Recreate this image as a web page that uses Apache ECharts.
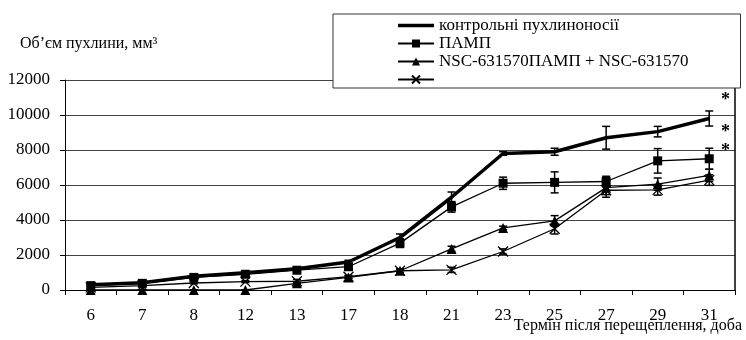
<!DOCTYPE html>
<html>
<head>
<meta charset="utf-8">
<script src="https://cdn.jsdelivr.net/npm/echarts@6/dist/echarts.min.js"></script>
<style>html,body{margin:0;padding:0;background:#fff;}#c{width:746px;height:340px;}</style>
</head>
<body>
<div id="c"></div>
<script>
var categories = ['6','7','8','12','13','17','18','21','23','25','27','29','31'];
var yTicks = [0, 2000, 4000, 6000, 8000, 10000, 12000];
var seriesNames = ['контрольні пухлиноносії', 'ПАМП', 'NSC-631570ПАМП + NSC-631570', ' '];
var control    = [300, 420, 780, 980, 1220, 1600, 3000, 5300, 7800, 7900, 8700, 9050, 9800];
var controlErr = [60, 60, 80, 80, 80, 100, 200, 300, 100, 200, 650, 300, 430];
var pamp       = [250, 380, 720, 900, 1130, 1330, 2680, 4750, 6100, 6150, 6200, 7380, 7500];
var pampErr    = [60, 60, 80, 80, 80, 100, 250, 300, 350, 600, 300, 700, 600];
var nsc        = [0, 0, 0, 0, 380, 720, 1100, 2350, 3550, 3950, 5850, 6050, 6550];
var nscErr     = [0, 0, 0, 0, 60, 80, 100, 150, 100, 300, 400, 350, 350];
var cross      = [150, 250, 400, 480, 500, 760, 1100, 1150, 2200, 3500, 5700, 5720, 6280];
var crossErr   = [50, 50, 50, 60, 100, 80, 100, 150, 150, 300, 400, 300, 300];
var asterisks  = ['*', '*', '*'];

var FONT = 'Liberation Serif';

function errData(vals, errs) {
  return vals.map(function (v, i) { return [i, v - errs[i], v + errs[i]]; });
}
function errSeries(vals, errs, w) {
  return {
    type: 'custom',
    silent: true,
    z: 3,
    data: errData(vals, errs),
    renderItem: function (params, api) {
      var lo = api.coord([api.value(0), api.value(1)]);
      var hi = api.coord([api.value(0), api.value(2)]);
      var h = 4;
      var st = { stroke: '#000', lineWidth: w };
      return {
        type: 'group',
        children: [
          { type: 'line', shape: { x1: lo[0], y1: lo[1], x2: hi[0], y2: hi[1] }, style: st },
          { type: 'line', shape: { x1: lo[0] - h, y1: lo[1], x2: lo[0] + h, y2: lo[1] }, style: st },
          { type: 'line', shape: { x1: hi[0] - h, y1: hi[1], x2: hi[0] + h, y2: hi[1] }, style: st }
        ]
      };
    }
  };
}

var chart = echarts.init(document.getElementById('c'), null, { renderer: 'canvas' });
chart.setOption({
  animation: false,
  backgroundColor: '#fff',
  textStyle: { fontFamily: FONT, color: '#000' },
  grid: { left: 65, right: 11, top: 80, bottom: 50 },
  legend: {
    orient: 'vertical',
    left: 333,
    top: 14,
    padding: [3, 52, 0, 64],
    backgroundColor: '#fff',
    borderColor: '#333',
    borderWidth: 1,
    itemWidth: 36,
    itemHeight: 10,
    itemGap: 1,
    align: 'left',
    data: [
      { name: seriesNames[0], icon: 'path://M0,0 L36,0 L36,0 Z M0,3.3 L36,3.3 L36,6.7 L0,6.7 Z M0,10 L36,10 L36,10 Z' },
      seriesNames[1], seriesNames[2], seriesNames[3]
    ],
    textStyle: { fontFamily: FONT, fontSize: 17, color: '#000' }
  },
  xAxis: {
    type: 'category',
    data: categories,
    boundaryGap: true,
    axisLine: { lineStyle: { color: '#000', width: 1 } },
    axisTick: { show: true, length: 5, lineStyle: { color: '#000' } },
    axisLabel: { fontFamily: FONT, fontSize: 17, color: '#000', margin: 17 },
    splitLine: { show: false }
  },
  yAxis: [{
    type: 'value',
    min: 0,
    max: 12000,
    interval: 2000,
    axisLine: { show: true, lineStyle: { color: '#000', width: 1 } },
    axisTick: { show: true, length: 5, lineStyle: { color: '#000' } },
    axisLabel: {
      fontFamily: FONT, fontSize: 17, color: '#000', margin: 15,
      formatter: function (v) { return yTicks.indexOf(v) >= 0 ? String(v) : ''; }
    },
    splitLine: { show: true, lineStyle: { color: '#444', width: 1 } }
  }, {
    type: 'value',
    min: 0,
    max: 12000,
    interval: 2000,
    position: 'right',
    axisLine: { show: true, lineStyle: { color: '#000', width: 1.5 } },
    axisTick: { show: false },
    axisLabel: { show: false },
    splitLine: { show: false }
  }],
  series: [
    {
      name: seriesNames[0], type: 'line', data: control, symbol: 'none', z: 5,
      lineStyle: { color: '#000', width: 3.5 }, itemStyle: { color: '#000' }
    },
    {
      name: seriesNames[1], type: 'line', data: pamp, symbol: 'rect', symbolSize: 9, z: 4,
      lineStyle: { color: '#000', width: 1.3 }, itemStyle: { color: '#000' }
    },
    {
      name: seriesNames[2], type: 'line', data: nsc, symbol: 'triangle', symbolSize: 10, z: 4,
      lineStyle: { color: '#000', width: 1.3 }, itemStyle: { color: '#000' }
    },
    {
      name: seriesNames[3], type: 'line', data: cross,
      symbol: 'path://M0,0 L10,10 M10,0 L0,10', symbolSize: 10, z: 4,
      lineStyle: { color: '#000', width: 1.3 },
      itemStyle: { color: 'transparent', borderColor: '#000', borderWidth: 1.3 }
    },
    errSeries(control, controlErr, 1.5),
    errSeries(pamp, pampErr, 1.5),
    errSeries(nsc, nscErr, 1.5),
    errSeries(cross, crossErr, 1.5)
  ],
  graphic: [
    { type: 'text', z: 100, left: 20, top: 36, style: { text: 'Об’єм пухлини, мм³', font: '16px "Liberation Serif"', fill: '#000' } },
    { type: 'text', z: 100, right: 4, top: 318, style: { text: 'Термін після перещеплення, доба', font: '16px "Liberation Serif"', fill: '#000' } },
    { type: 'text', z: 100, left: 721, top: 91, style: { text: asterisks[0], font: 'bold 18px "Liberation Serif"', fill: '#000' } },
    { type: 'text', z: 100, left: 721, top: 123, style: { text: asterisks[1], font: 'bold 18px "Liberation Serif"', fill: '#000' } },
    { type: 'text', z: 100, left: 721, top: 142, style: { text: asterisks[2], font: 'bold 18px "Liberation Serif"', fill: '#000' } }
  ]
});
</script>
</body>
</html>
